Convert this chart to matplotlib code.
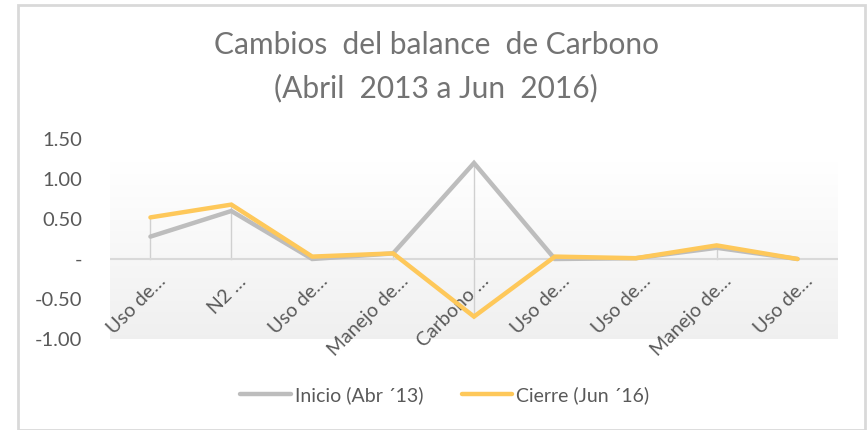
import matplotlib
matplotlib.use("Agg")
import matplotlib.pyplot as plt
import numpy as np
from matplotlib.lines import Line2D
from matplotlib.patches import Rectangle

categories = ["Uso de…", "N2 …", "Uso de…", "Manejo de…", "Carbono …",
              "Uso de…", "Uso de…", "Manejo de…", "Uso de…"]
inicio = [0.28, 0.60, 0.00, 0.07, 1.20, 0.00, 0.01, 0.14, 0.00]
cierre = [0.52, 0.68, 0.03, 0.07, -0.72, 0.03, 0.01, 0.17, 0.00]
yticks = [1.5, 1.0, 0.5, 0.0, -0.5, -1.0]
ytick_labels = ["1.50", "1.00", "0.50", "-", "-0.50", "-1.00"]
series_names = ["Inicio (Abr \u00b413)", "Cierre (Jun \u00b416)"]

plt.rcParams['font.family'] = ['Lato', 'DejaVu Sans']
txt = '#595959'
gray = '#bdbdbd'
gold = '#fec85a'

fig = plt.figure(figsize=(8.67, 4.30), dpi=100)
fig.patch.set_facecolor('white')

# chart border
fig.add_artist(Rectangle((18/867, 0.0), (865-18)/867, (430-5)/430,
                         transform=fig.transFigure, fill=False,
                         edgecolor='#d9d9d9', linewidth=2))

ax = fig.add_axes([110/867, (430-339)/430, 728/867, 200/430])
n = len(categories)
x = np.arange(n)
ax.set_xlim(-0.5, n - 0.5)
ax.set_ylim(-1.0, 1.5)

# gradient plot-area fill
grad = np.linspace(1.0, 0.0, 256).reshape(-1, 1)
top_c = np.array([1.0, 1.0, 1.0])
bot_c = np.array([0.94, 0.94, 0.94])
img = top_c * grad[..., None] + bot_c * (1 - grad[..., None])
img = np.repeat(img, 2, axis=1)
ax.imshow(img, extent=[-0.5, n - 0.5, -1.0, 1.21], aspect='auto', zorder=0,
          interpolation='bilinear')

# drop lines
for xi, a, b in zip(x, inicio, cierre):
    hi = max(a, b, 0)
    lo = min(a, b, 0)
    ax.plot([xi, xi], [lo, hi], color='#d0d0d0', lw=1.0, zorder=1)

ax.axhline(0, color='#d9d9d9', lw=1.5, zorder=1)

ax.plot(x, inicio, color=gray, lw=3.2, zorder=3, solid_capstyle='round',
        solid_joinstyle='miter')
ax.plot(x, cierre, color=gold, lw=3.2, zorder=4, solid_capstyle='round',
        solid_joinstyle='miter')

for s in ax.spines.values():
    s.set_visible(False)

ax.set_yticks(yticks)
ax.set_yticklabels(ytick_labels, color=txt, fontsize=14.5)
ax.tick_params(axis='y', length=0, pad=20)

ax.set_xticks([])
for xi, lab in zip(x, categories):
    ax.annotate(lab, xy=(xi, 0), xytext=(9, -14), textcoords='offset points',
                rotation=45, ha='right', va='center', rotation_mode='anchor',
                color=txt, fontsize=14, annotation_clip=False)

fig.text(0.503, 1 - 45/430, "Cambios  del balance  de Carbono", ha='center',
         va='center', fontsize=21.5, color='#737373')
fig.text(0.503, 1 - 88/430, "(Abril  2013 a Jun  2016)", ha='center',
         va='center', fontsize=21.5, color='#737373')

handles = [Line2D([], [], color=gray, lw=3.2, solid_capstyle='round'),
           Line2D([], [], color=gold, lw=3.2, solid_capstyle='round')]
fig.legend(handles, series_names, loc='center', bbox_to_anchor=(0.513, 1 - 395/430),
           ncol=2, frameon=False, fontsize=14, labelcolor=txt,
           handlelength=2.6, handletextpad=0.2, columnspacing=2.0)

fig.savefig("out.png", dpi=100, facecolor='white')
